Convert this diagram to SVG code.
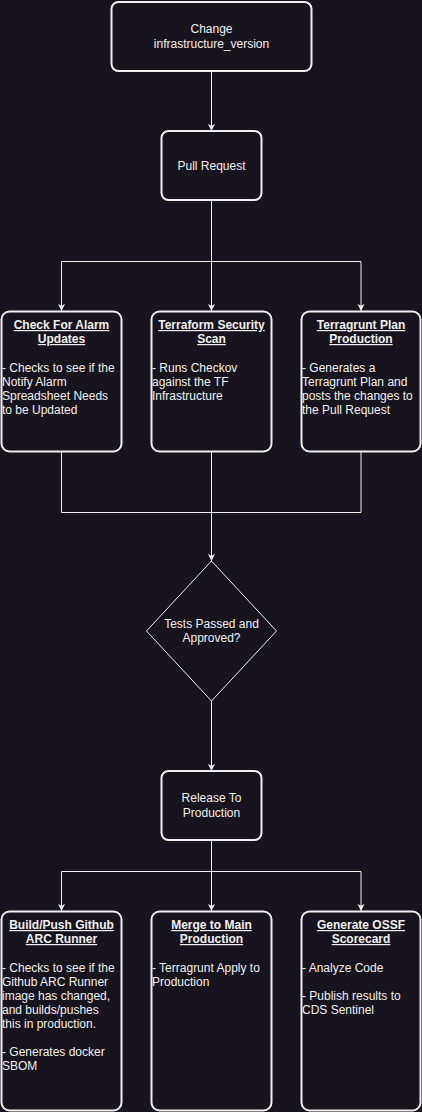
<svg xmlns="http://www.w3.org/2000/svg" width="422" height="1112" viewBox="0 0 422 1112">
<style>
.bg{fill:#18141d}
.box{fill:#18141d;stroke:#f0f0f0;stroke-width:2}
.dia{fill:#18141d;stroke:#f0f0f0;stroke-width:1}
.ln{fill:none;stroke:#f0f0f0;stroke-width:1}
text{font-family:"Liberation Sans",Arial,Helvetica,sans-serif;font-size:12px;fill:#f0f0f0}
.c{text-anchor:middle}
.t{font-weight:bold;text-decoration:underline;text-anchor:middle}
</style>
<defs>
<marker id="ar" markerUnits="userSpaceOnUse" markerWidth="8" markerHeight="8" refX="7" refY="3.5" orient="auto">
<path d="M0,0 L7,3.5 L0,7 L1.75,3.5 Z" fill="#f0f0f0"/>
</marker>
</defs>
<rect class="bg" x="0" y="0" width="422" height="1112"/>
<g id="connectors">
<line class="ln" x1="211.5" y1="72" x2="211.5" y2="131" marker-end="url(#ar)"/>
<path class="ln" d="M211.5,201 V261.5 H61.5 V311" marker-end="url(#ar)"/>
<path class="ln" d="M211.5,261.5 V311" marker-end="url(#ar)"/>
<path class="ln" d="M211.5,261.5 H361 V311" marker-end="url(#ar)"/>
<path class="ln" d="M61.5,452 V512.5 H211.5"/>
<path class="ln" d="M361,452 V512.5 H211.5"/>
<path class="ln" d="M211.5,452 V561" marker-end="url(#ar)"/>
<line class="ln" x1="211.5" y1="701" x2="211.5" y2="771" marker-end="url(#ar)"/>
<path class="ln" d="M211.5,841 V871.5 H61.5 V911" marker-end="url(#ar)"/>
<path class="ln" d="M211.5,871.5 V911" marker-end="url(#ar)"/>
<path class="ln" d="M211.5,871.5 H361 V911" marker-end="url(#ar)"/>
</g>
<g id="change">
<rect class="box" x="111.5" y="2" width="200" height="69" rx="7"/>
<text class="c" x="211.5" y="33">Change</text>
<text class="c" x="211.5" y="48">infrastructure_version</text>
</g>
<g id="pull-request">
<rect class="box" x="161.5" y="131" width="100" height="69" rx="7"/>
<text class="c" x="211.5" y="170">Pull Request</text>
</g>
<g id="alarm">
<rect class="box" x="1.5" y="311.5" width="120" height="140" rx="8"/>
<text class="t" x="61.5" y="329">Check For Alarm</text>
<text class="t" x="61.5" y="343">Updates</text>
<text x="2" y="372">- Checks to see if the</text>
<text x="2" y="386">Notify Alarm</text>
<text x="2" y="400">Spreadsheet Needs</text>
<text x="2" y="414">to be Updated</text>
</g>
<g id="security">
<rect class="box" x="151.5" y="311.5" width="120" height="140" rx="8"/>
<text class="t" x="211.5" y="329">Terraform Security</text>
<text class="t" x="211.5" y="343">Scan</text>
<text x="152" y="372">- Runs Checkov</text>
<text x="152" y="386">against the TF</text>
<text x="152" y="400">Infrastructure</text>
</g>
<g id="plan">
<rect class="box" x="301.5" y="311.5" width="119" height="140" rx="8"/>
<text class="t" x="361" y="329">Terragrunt Plan</text>
<text class="t" x="361" y="343">Production</text>
<text x="302" y="372">- Generates a</text>
<text x="302" y="386">Terragrunt Plan and</text>
<text x="302" y="400">posts the changes to</text>
<text x="302" y="414">the Pull Request</text>
</g>
<g id="decision">
<polygon class="dia" points="211.5,561 276.5,631 211.5,701 146.5,631"/>
<text class="c" x="211.5" y="628">Tests Passed and</text>
<text class="c" x="211.5" y="642">Approved?</text>
</g>
<g id="release">
<rect class="box" x="161.5" y="771" width="100" height="69" rx="7"/>
<text class="c" x="211.5" y="802">Release To</text>
<text class="c" x="211.5" y="817">Production</text>
</g>
<g id="arc-runner">
<rect class="box" x="1.5" y="911.5" width="120" height="199" rx="8"/>
<text class="t" x="61.5" y="929">Build/Push Github</text>
<text class="t" x="61.5" y="943">ARC Runner</text>
<text x="2" y="972">- Checks to see if the</text>
<text x="2" y="986">Github ARC Runner</text>
<text x="2" y="1000">image has changed,</text>
<text x="2" y="1014">and builds/pushes</text>
<text x="2" y="1028">this in production.</text>
<text x="2" y="1056">- Generates docker</text>
<text x="2" y="1070">SBOM</text>
</g>
<g id="merge">
<rect class="box" x="151.5" y="911.5" width="120" height="199" rx="8"/>
<text class="t" x="211.5" y="929">Merge to Main</text>
<text class="t" x="211.5" y="943">Production</text>
<text x="152" y="972">- Terragrunt Apply to</text>
<text x="152" y="986">Production</text>
</g>
<g id="ossf">
<rect class="box" x="301.5" y="911.5" width="119" height="199" rx="8"/>
<text class="t" x="361" y="929">Generate OSSF</text>
<text class="t" x="361" y="943">Scorecard</text>
<text x="302" y="972">- Analyze Code</text>
<text x="302" y="1000">- Publish results to</text>
<text x="302" y="1014">CDS Sentinel</text>
</g>
</svg>
